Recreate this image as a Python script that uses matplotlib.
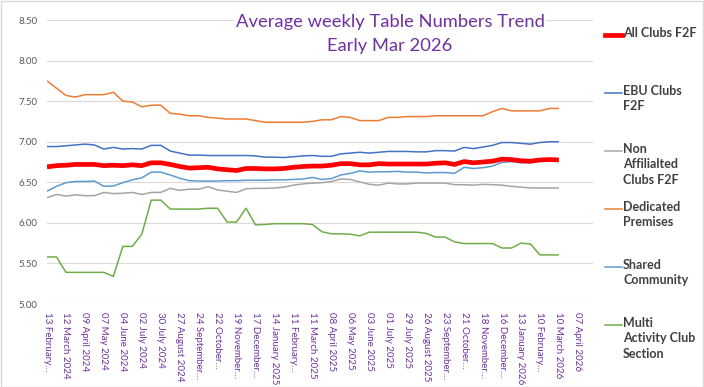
import matplotlib.pyplot as plt
from matplotlib.lines import Line2D
from matplotlib.patches import Rectangle

plt.rcParams['font.family'] = ['Lato', 'DejaVu Sans']

# fortnightly categories, a label on every other one
tick_labels = ["13 February…", "12 March 2024", "09 April 2024", "07 May 2024",
               "04 June 2024", "02 July 2024", "30 July 2024", "27 August 2024",
               "24 September…", "22 October…", "19 November…", "17 December…",
               "14 January 2025", "11 February…", "11 March 2025", "08 April 2025",
               "06 May 2025", "03 June 2025", "01 July 2025", "29 July 2025",
               "26 August 2025", "23 September…", "21 October…", "18 November…",
               "16 December…", "13 January 2026", "10 February…", "10 March 2026",
               "07 April 2026"]

all_clubs = [6.69, 6.705, 6.71, 6.72, 6.72, 6.72, 6.705, 6.71, 6.705, 6.715, 6.705,
             6.74, 6.74, 6.72, 6.695, 6.675, 6.68, 6.685, 6.665, 6.655, 6.645, 6.67,
             6.67, 6.665, 6.665, 6.67, 6.685, 6.695, 6.70, 6.70, 6.71, 6.73, 6.73,
             6.715, 6.715, 6.73, 6.725, 6.725, 6.725, 6.725, 6.725, 6.735, 6.74, 6.72,
             6.755, 6.74, 6.75, 6.76, 6.785, 6.78, 6.765, 6.76, 6.775, 6.78, 6.775]
ebu_clubs = [6.94, 6.94, 6.95, 6.96, 6.97, 6.96, 6.91, 6.93, 6.91, 6.915, 6.91,
             6.955, 6.955, 6.885, 6.86, 6.835, 6.835, 6.83, 6.83, 6.83, 6.83, 6.83,
             6.825, 6.81, 6.81, 6.805, 6.815, 6.825, 6.83, 6.82, 6.82, 6.85, 6.86,
             6.87, 6.86, 6.87, 6.88, 6.88, 6.88, 6.875, 6.875, 6.89, 6.89, 6.885,
             6.93, 6.915, 6.935, 6.955, 6.99, 6.99, 6.98, 6.97, 6.99, 7.00, 7.00]
non_affiliated = [6.31, 6.35, 6.33, 6.345, 6.335, 6.335, 6.375, 6.36, 6.365, 6.375, 6.35,
                  6.375, 6.375, 6.425, 6.40, 6.415, 6.415, 6.445, 6.405, 6.39, 6.375, 6.42,
                  6.425, 6.425, 6.43, 6.44, 6.465, 6.48, 6.49, 6.495, 6.51, 6.54, 6.535,
                  6.505, 6.475, 6.465, 6.49, 6.48, 6.48, 6.49, 6.49, 6.49, 6.49, 6.47,
                  6.47, 6.465, 6.475, 6.47, 6.465, 6.45, 6.44, 6.43, 6.43, 6.43, 6.43]
dedicated = [7.75, 7.66, 7.57, 7.55, 7.58, 7.58, 7.58, 7.61, 7.50, 7.49, 7.43,
             7.45, 7.45, 7.35, 7.34, 7.32, 7.32, 7.30, 7.29, 7.28, 7.28, 7.28,
             7.26, 7.24, 7.24, 7.24, 7.24, 7.24, 7.25, 7.27, 7.27, 7.31, 7.30,
             7.26, 7.26, 7.26, 7.30, 7.30, 7.31, 7.31, 7.31, 7.32, 7.32, 7.32,
             7.32, 7.32, 7.32, 7.37, 7.41, 7.38, 7.38, 7.38, 7.38, 7.41, 7.41]
shared = [6.39, 6.45, 6.495, 6.51, 6.51, 6.515, 6.45, 6.455, 6.495, 6.53, 6.555,
          6.625, 6.625, 6.59, 6.55, 6.52, 6.515, 6.515, 6.515, 6.52, 6.52, 6.525,
          6.525, 6.525, 6.53, 6.53, 6.535, 6.54, 6.56, 6.535, 6.545, 6.59, 6.61,
          6.64, 6.625, 6.63, 6.63, 6.635, 6.625, 6.625, 6.615, 6.62, 6.62, 6.61,
          6.685, 6.67, 6.68, 6.70, 6.745, 6.755, 6.74, 6.74, 6.76, 6.765, 6.765]
multi_activity = [5.58, 5.58, 5.39, 5.39, 5.39, 5.39, 5.39, 5.34, 5.71, 5.71, 5.86,
                  6.28, 6.28, 6.17, 6.17, 6.17, 6.17, 6.18, 6.18, 6.01, 6.01, 6.18,
                  5.975, 5.98, 5.99, 5.99, 5.99, 5.99, 5.98, 5.89, 5.865, 5.865, 5.86,
                  5.84, 5.885, 5.885, 5.885, 5.885, 5.885, 5.885, 5.87, 5.825, 5.825, 5.765,
                  5.745, 5.745, 5.745, 5.745, 5.69, 5.69, 5.75, 5.74, 5.605, 5.605, 5.605]

series = [
    ("All Clubs F2F", all_clubs, "#FF0000", 3.4),
    ("EBU Clubs\nF2F", ebu_clubs, "#4472C4", 1.1),
    ("Non\nAffilialted\nClubs F2F", non_affiliated, "#A5A5A5", 1.1),
    ("Dedicated\nPremises", dedicated, "#ED7D31", 1.1),
    ("Shared\nCommunity", shared, "#5B9BD5", 1.1),
    ("Multi\nActivity Club\nSection", multi_activity, "#70AD47", 1.1),
]

fig = plt.figure(figsize=(7.04, 3.87), dpi=100)
ax = fig.add_axes([47 / 704, 1 - 304 / 387, 546 / 704, 284 / 387])

# draw red last so it sits on top
for name, vals, col, lw in series[1:] + series[:1]:
    ax.plot(range(len(vals)), vals, color=col, lw=lw, solid_capstyle='butt',
            zorder=3)

ax.set_ylim(5.0, 8.5)
ax.set_yticks([5.0 + 0.5 * k for k in range(8)])
ax.set_yticklabels(["%.2f" % (5.0 + 0.5 * k) for k in range(8)],
                   color="#595959", fontsize=7)
ax.set_xlim(0, 57.6)
ax.set_xticks(range(0, 2 * len(tick_labels), 2))
ax.set_xticklabels(tick_labels, rotation=270, color="#7030A0", fontsize=7,
                   va='top', ha='center')
ax.tick_params(axis='y', length=0, pad=7)
ax.tick_params(axis='x', length=0, pad=6)
ax.grid(axis='y', color="#D9D9D9", lw=0.8)
ax.set_axisbelow(True)
for s in ax.spines.values():
    s.set_visible(False)

fig.text(390 / 704, 1 - 34 / 387,
         "Average weekly Table Numbers Trend\nEarly Mar 2026",
         ha='center', va='center', color="#7030A0", fontsize=13.2,
         linespacing=1.6,
         bbox=dict(facecolor='white', edgecolor='none', pad=1))

# legend on the right, one entry every 58 px
for k, (name, vals, col, lw) in enumerate(series):
    y = 1 - (35 + 58 * k) / 387
    fig.add_artist(Line2D([605 / 704, 622 / 704], [y, y], color=col,
                          lw=lw, transform=fig.transFigure))
    fig.text(623 / 704, y + 8 / 387, name, ha='left', va='top',
             fontsize=9, fontweight='bold', color="#404040", linespacing=1.35)

fig.add_artist(Rectangle((0.001, 0.001), 0.998, 0.997, fill=False,
                         edgecolor="#D9D9D9", lw=1, transform=fig.transFigure))

fig.savefig("out.png", dpi=100)
